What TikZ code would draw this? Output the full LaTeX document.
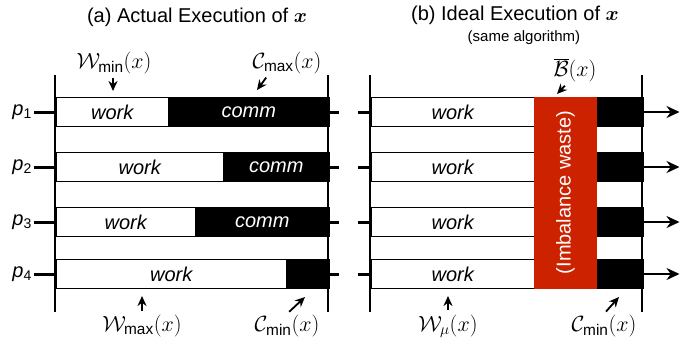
\RequirePackage{fix-cm}
\documentclass[tikz,border=0pt]{standalone}
\usepackage{amsmath}
\usepackage{fontspec}
\setmainfont{Liberation Sans}
\setsansfont{Liberation Sans}
\usetikzlibrary{arrows.meta}
\definecolor{WasteRed}{HTML}{CC2200}
\newcommand{\figfont}{\fontsize{20}{22}\selectfont}
\newcommand{\mathsize}{\fontsize{22}{24}\selectfont}
\newcommand{\notefont}{\fontsize{15}{17}\selectfont}

\begin{document}
\begin{tikzpicture}[x=1pt,y=-1pt,
    workbox/.style={draw,line width=1.5pt,fill=white,minimum height=29,inner sep=0pt,anchor=west,font=\figfont\itshape},
    commbox/.style={workbox,fill=black,text=white},
    plabel/.style={anchor=east,inner sep=2pt,font=\figfont},
    mlabel/.style={inner sep=1pt,font=\mathsize},
    ttl/.style={font=\figfont},
    axis/.style={line width=2pt},
    tick/.style={line width=3pt},
    annot/.style={line width=1.8pt,shorten <=3pt,-{Stealth[length=10pt,width=9pt]}},
    flow/.style={line width=2pt,-{Stealth[length=13pt,width=12pt]}},
  ]
  \useasboundingbox (0,0) rectangle (694,346);
  % Titles
  \node[ttl] (titlea) at (197,17) {(a) Actual Execution of $\boldsymbol{x}$};
  \node[ttl] (titleb) at (515,15) {(b) Ideal Execution of $\boldsymbol{x}$};
  \node[font=\notefont] (subb) at (524,38) {(same algorithm)};
  % (a) actual execution, one row per processor
  \foreach \i/\y/\w/\t in {1/112/168/comm,2/167/223/comm,3/222/195/comm,4/274/286/{}} {
    \node[workbox,minimum width=\w-55] (wa\i) at (55,\y) {work};
    \node[commbox,minimum width=328-\w] (ca\i) at (\w,\y) {\t};
    \node[plabel] (pa\i) at (34,\y) {\textit{p}\textsubscript{\i}};
    \draw[tick] (pa\i) -- (wa\i.west);
    \draw[tick] (ca\i.east) -- ++(9,0);
  }
  \draw[axis] (55,75) -- (55,312);
  \draw[axis] (328,75) -- (328,312);
  % (b) ideal execution
  \foreach \i/\y in {1/112,2/167,3/222,4/274} {
    \node[workbox,minimum width=164] (wb\i) at (370,\y) {work};
    \node[commbox,minimum width=45] (cb\i) at (597,\y) {};
    \draw[tick] (wb\i.west) -- ++(-12,0);
    \draw[flow] (cb\i.east) -- ++(36,0);
  }
  \node[fill=WasteRed,minimum width=63,minimum height=192,inner sep=0pt] (waste) at (565.5,192.5) {};
  \node[rotate=90,text=white,font=\figfont] (wastetxt) at (waste) {(Imbalance waste)};
  \draw[axis] (370,75) -- (370,312);
  \draw[axis] (642,75) -- (642,312);
  % Annotations
  \node[mlabel] (wmin) at (114,63) {$\mathcal{W}_{\textsf{min}}(x)$};
  \coordinate (wmintip) at (113,91);
  \draw[annot] (wmin.south -| wmintip) -- (wmintip);
  \node[mlabel] (cmax) at (287,63) {$\mathcal{C}_{\textsf{max}}(x)$};
  \coordinate (cmaxtip) at (257,90);
  \draw[annot] ([xshift=-19pt]cmax.south) -- (cmaxtip);
  \node[mlabel] (bbar) at (575,70) {$\overline{\mathcal{B}}(x)$};
  \coordinate (bbartip) at (557,94);
  \draw[annot] ([xshift=-8pt]bbar.south) -- (bbartip);
  \node[mlabel] (wmax) at (142,326) {$\mathcal{W}_{\textsf{max}}(x)$};
  \coordinate (wmaxtip) at (142,296);
  \draw[annot] (wmax.north) -- (wmaxtip);
  \node[mlabel] (cmina) at (287,326) {$\mathcal{C}_{\textsf{min}}(x)$};
  \coordinate (cminatip) at (305,297);
  \draw[annot] (cmina.north) -- (cminatip);
  \node[mlabel] (wmu) at (448,326) {$\mathcal{W}_{\mu}(x)$};
  \coordinate (wmutip) at (448,296);
  \draw[annot] (wmu.north) -- (wmutip);
  \node[mlabel] (cminb) at (604,326) {$\mathcal{C}_{\textsf{min}}(x)$};
  \coordinate (cminbtip) at (619,297);
  \draw[annot] (cminb.north) -- (cminbtip);
\end{tikzpicture}
\end{document}
